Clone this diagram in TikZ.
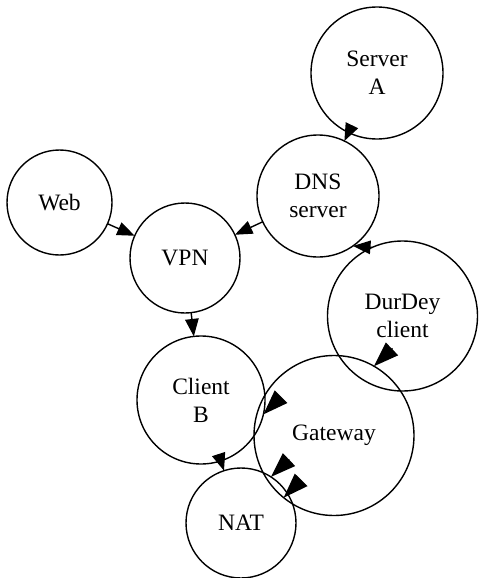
\documentclass[tikz,border=0pt]{standalone}
\usepackage{fontspec}
\setmainfont{Liberation Serif}
\usetikzlibrary{arrows.meta}
\begin{document}
\begin{tikzpicture}[x=1pt,y=-1pt,
  nd/.style={circle,draw,line width=1.4pt,inner sep=0pt,outer sep=0pt,align=center,
    font=\fontsize{23.5}{28}\selectfont},
  arr/.style={line width=1.4pt,-{Triangle[length=17.5pt,width=13.5pt]}},
  bigarr/.style={line width=1.4pt,-{Triangle[length=25pt,width=17.5pt]}}]
\useasboundingbox (0,0) rectangle (479,578);
\node[nd,minimum size=132pt] (sa) at (377,73) {Server\\A};
\node[nd,minimum size=122pt] (dns) at (318,196) {DNS\\server};
\node[nd,minimum size=105pt] (web) at (59.5,202.5) {Web};
\node[nd,minimum size=110pt] (vpn) at (185,258) {VPN};
\node[nd,minimum size=128pt] (cb) at (201,400) {Client\\B};
\node[nd,minimum size=150pt] (dd) at (402.5,316) {DurDey\\client};
\node[nd,minimum size=160pt] (gw) at (334,435.5) {Gateway};
\node[nd,minimum size=110pt] (nat) at (241,523) {NAT};
\draw[arr] (sa) -- (dns);
\draw[arr] (dns) -- (vpn);
\draw[arr] (web) -- (vpn);
\draw[arr] (vpn) -- (cb);
\draw[arr] (cb) -- (nat);
\draw[arr] (dd.114) -- (dns.-55);
\draw[bigarr] ([shift={(18.5,-17.8)}]gw.60) -- (gw.60);
\draw[bigarr] ([shift={(17.5,-17.5)}]cb.-13) -- (cb.-13);
\draw[bigarr] ([shift={(18.3,-17.5)}]nat.57) -- (nat.57);
\draw[bigarr] ([shift={(16.7,-17)}]gw.231) -- (gw.231);
\end{tikzpicture}
\end{document}
